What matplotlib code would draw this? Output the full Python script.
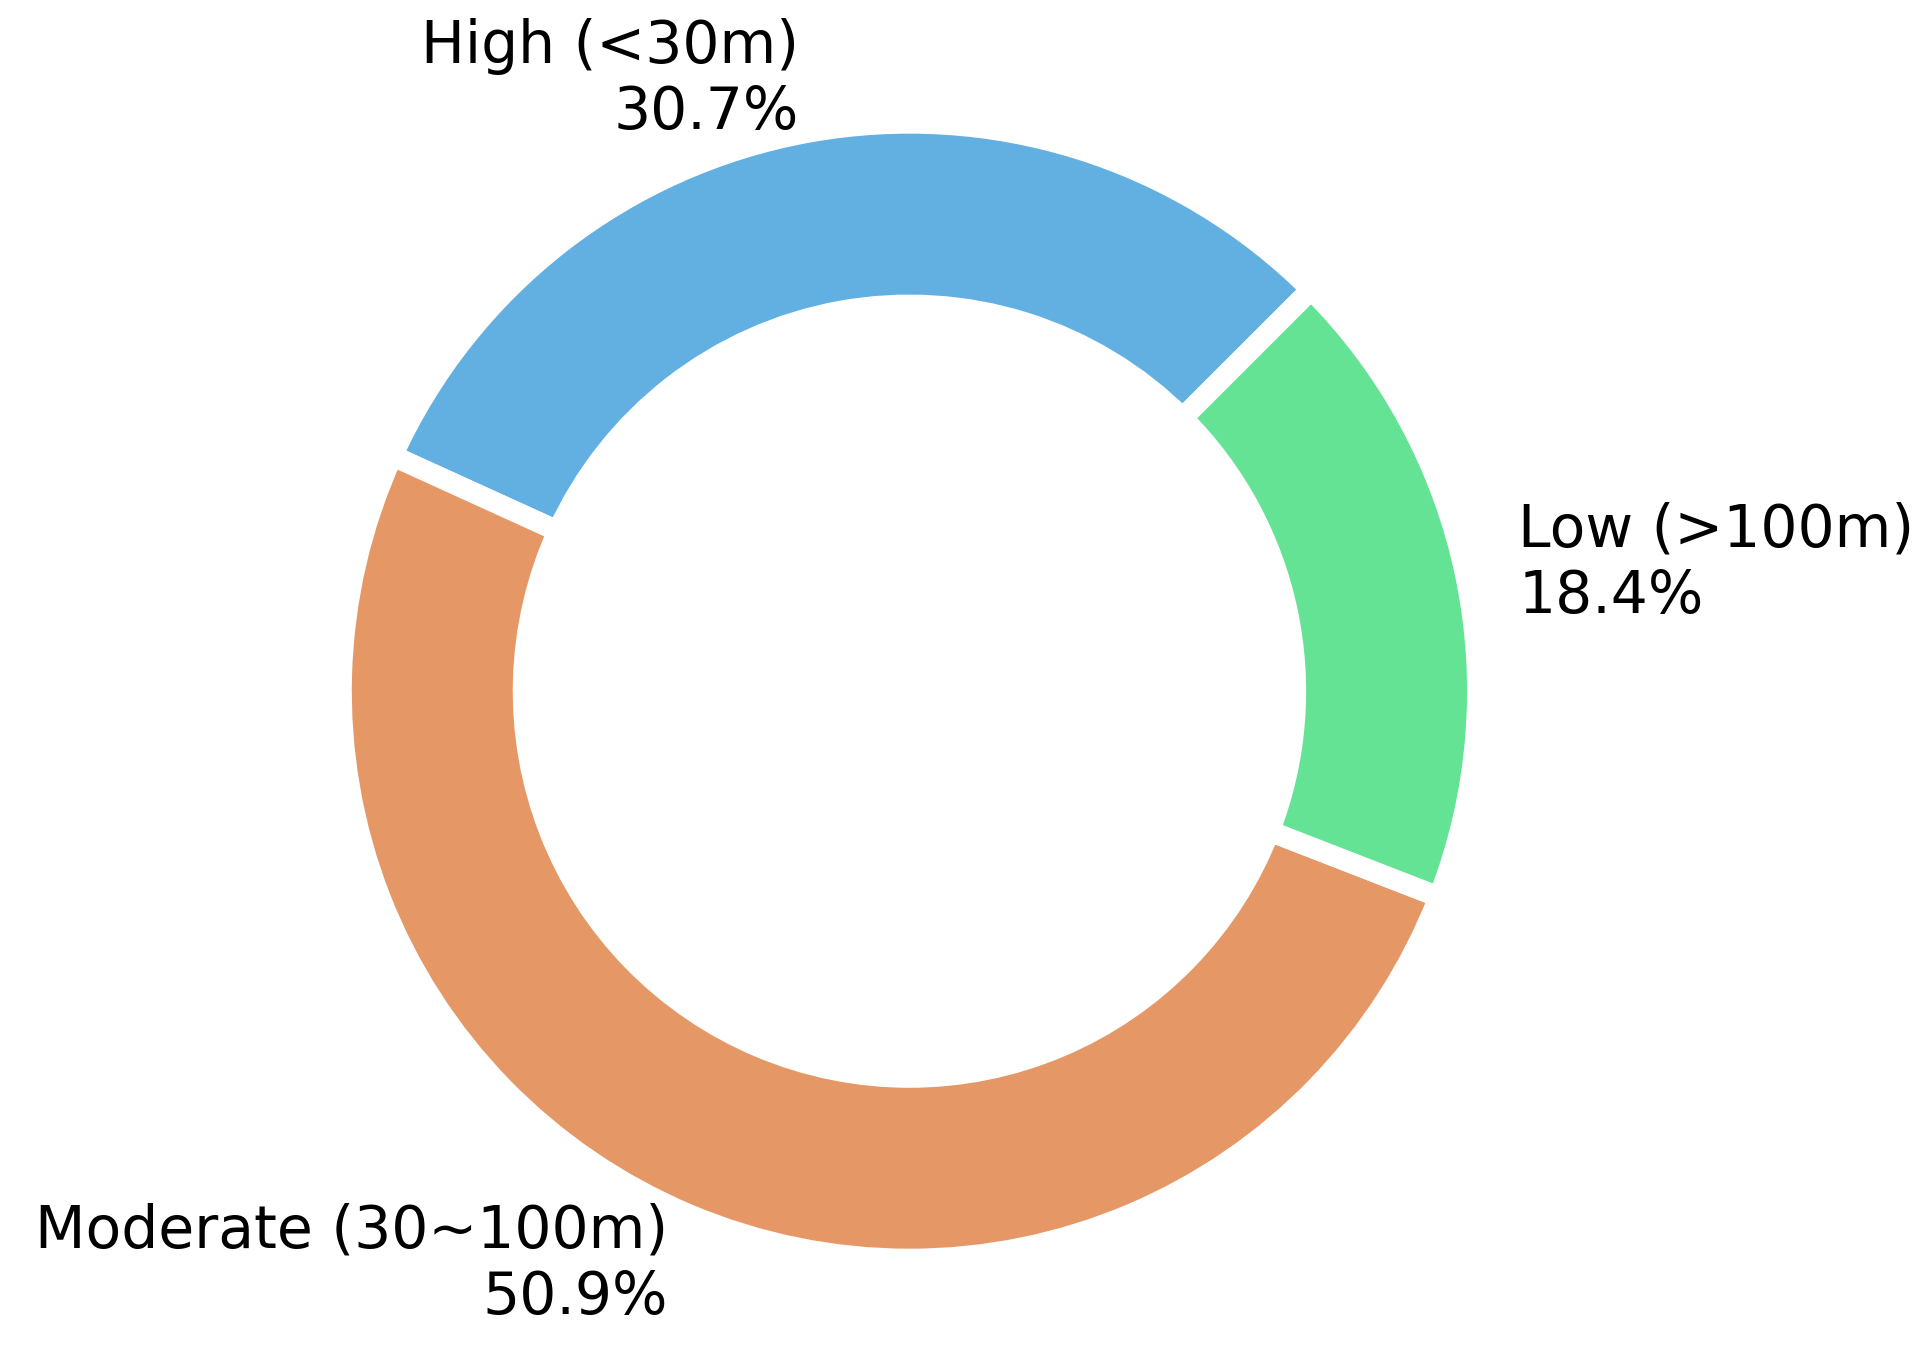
import matplotlib
matplotlib.use("Agg")
import matplotlib.pyplot as plt

# Slice data (drawn counter-clockwise from 45 degrees)
categories = ['High (<30m)', 'Moderate (30~100m)', 'Low (>100m)']
shares = [30.7, 50.9, 18.4]
colors = ['#62AFE2', '#E59866', '#64E395']

labels = [f"{c}\n{p}%" for c, p in zip(categories, shares)]

fig = plt.figure(figsize=(19.2, 13.46), dpi=100)
ax = fig.add_axes([0, 0, 1, 1])

ax.pie(shares, labels=labels, colors=colors, startangle=45,
       counterclock=True, labeldistance=1.095,
       wedgeprops=dict(width=0.32, edgecolor='white', linewidth=15),
       textprops=dict(fontsize=42, family='DejaVu Sans'))

# place the ring where it sits in the reference
ax.set_aspect('auto')
ax.set_xlim(-1.601, 1.779)
ax.set_ylim(-1.153, 1.217)
ax.axis('off')

fig.savefig("out.png", dpi=100, facecolor='white')
